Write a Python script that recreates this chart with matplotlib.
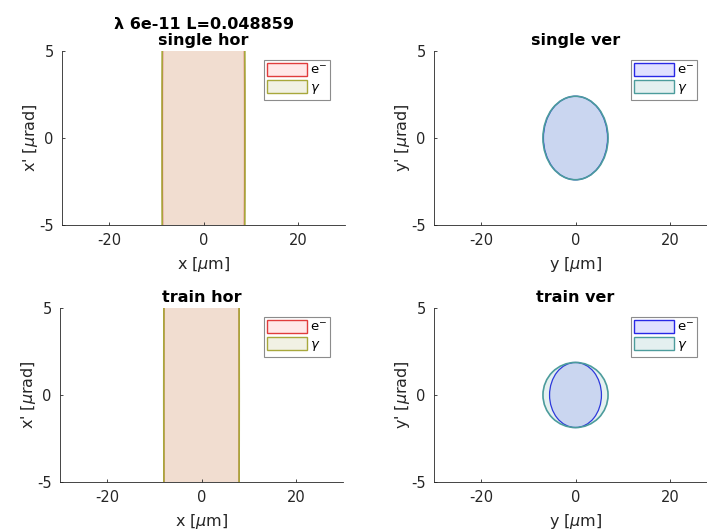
import matplotlib

matplotlib.use("Agg")
import matplotlib.pyplot as plt  # noqa: E402
from matplotlib.patches import Ellipse, Patch  # noqa: E402

# semi-axes of the phase-space ellipses: (position [um], angle [urad])
panels = ["single hor", "single ver", "train hor", "train ver"]
e_semi = [(8.7, 60.0), (6.8, 2.4), (8.0, 60.0), (5.5, 1.87)]
g_semi = [(8.8, 60.0), (6.9, 2.4), (8.0, 60.0), (6.9, 1.87)]
xlabels = ["x [$\\mu$m]", "y [$\\mu$m]", "x [$\\mu$m]", "y [$\\mu$m]"]
ylabels = ["x' [$\\mu$rad]", "y' [$\\mu$rad]", "x' [$\\mu$rad]", "y' [$\\mu$rad]"]
header = "\u03bb 6e-11 L=0.048859"
xticks = [-20, 0, 20]
yticks = [-5, 0, 5]

HOR = {"e_edge": "#e03c3c", "e_face": (1.0, 0.0, 0.0, 0.09),
       "g_edge": "#a8a83c", "g_face": (0.63, 0.63, 0.3, 0.15)}
VER = {"e_edge": "#2828e6", "e_face": (0.0, 0.0, 1.0, 0.12),
       "g_edge": "#4c9c9c", "g_face": (0.3, 0.62, 0.62, 0.15)}
INK = "#262626"

plt.rcParams["font.family"] = ["DejaVu Sans"]
plt.rcParams["axes.unicode_minus"] = False

fig = plt.figure(figsize=(7.07, 5.32), dpi=100)
boxes = [
    (62 / 707, 1 - 225 / 532, 283 / 707, 174 / 532),
    (434 / 707, 1 - 225 / 532, 283 / 707, 174 / 532),
    (60 / 707, 1 - 482 / 532, 283 / 707, 174 / 532),
    (434 / 707, 1 - 482 / 532, 283 / 707, 174 / 532),
]

for i, name in enumerate(panels):
    ax = fig.add_axes(boxes[i])
    sty = HOR if "hor" in name else VER
    (ea, eb), (ga, gb) = e_semi[i], g_semi[i]
    ax.add_patch(Ellipse((0, 0), 2 * ea, 2 * eb, facecolor=sty["e_face"],
                         edgecolor=sty["e_edge"], lw=0.9))
    ax.add_patch(Ellipse((0, 0), 2 * ga, 2 * gb, facecolor=sty["g_face"],
                         edgecolor=sty["g_edge"], lw=1.2))
    ax.set_xlim(-30, 30)
    ax.set_ylim(-5, 5)
    ax.set_xticks(xticks)
    ax.set_yticks(yticks)
    for s in ("top", "right"):
        ax.spines[s].set_visible(False)
    for s in ("left", "bottom"):
        ax.spines[s].set_color(INK)
        ax.spines[s].set_linewidth(0.6)
    ax.tick_params(direction="in", length=2.5, width=0.6, colors=INK,
                   labelsize=10.5, pad=6)
    ax.set_xlabel(xlabels[i], fontsize=11.5, color=INK, labelpad=5)
    ax.set_ylabel(ylabels[i], fontsize=11.5, color=INK, labelpad=-1)
    title = name if i else header + "\n" + name
    ax.set_title(title, fontsize=11.5, fontweight="bold", color="black",
                 pad=4, linespacing=1.15)

    handles = [Patch(facecolor=sty["e_face"], edgecolor=sty["e_edge"], lw=1.0),
               Patch(facecolor=sty["g_face"], edgecolor=sty["g_edge"], lw=1.0)]
    if i % 2 == 0:
        anchor = ((330 - boxes[i][0] * 707) / 283, 1.0 - 9 / 174)
    else:
        anchor = ((697 - boxes[i][0] * 707) / 283, 1.0 - 9 / 174)
    leg = ax.legend(handles, ["e$^{-}$", "$\\gamma$"], loc="upper right",
                    bbox_to_anchor=anchor, borderaxespad=0.0, fontsize=9.5,
                    handlelength=3.0, handleheight=1.1, handletextpad=0.2,
                    borderpad=0.25, labelspacing=0.25, fancybox=False,
                    framealpha=1.0, edgecolor="#8c8c8c")
    leg.get_frame().set_linewidth(0.8)

fig.savefig("out.png", dpi=100)
